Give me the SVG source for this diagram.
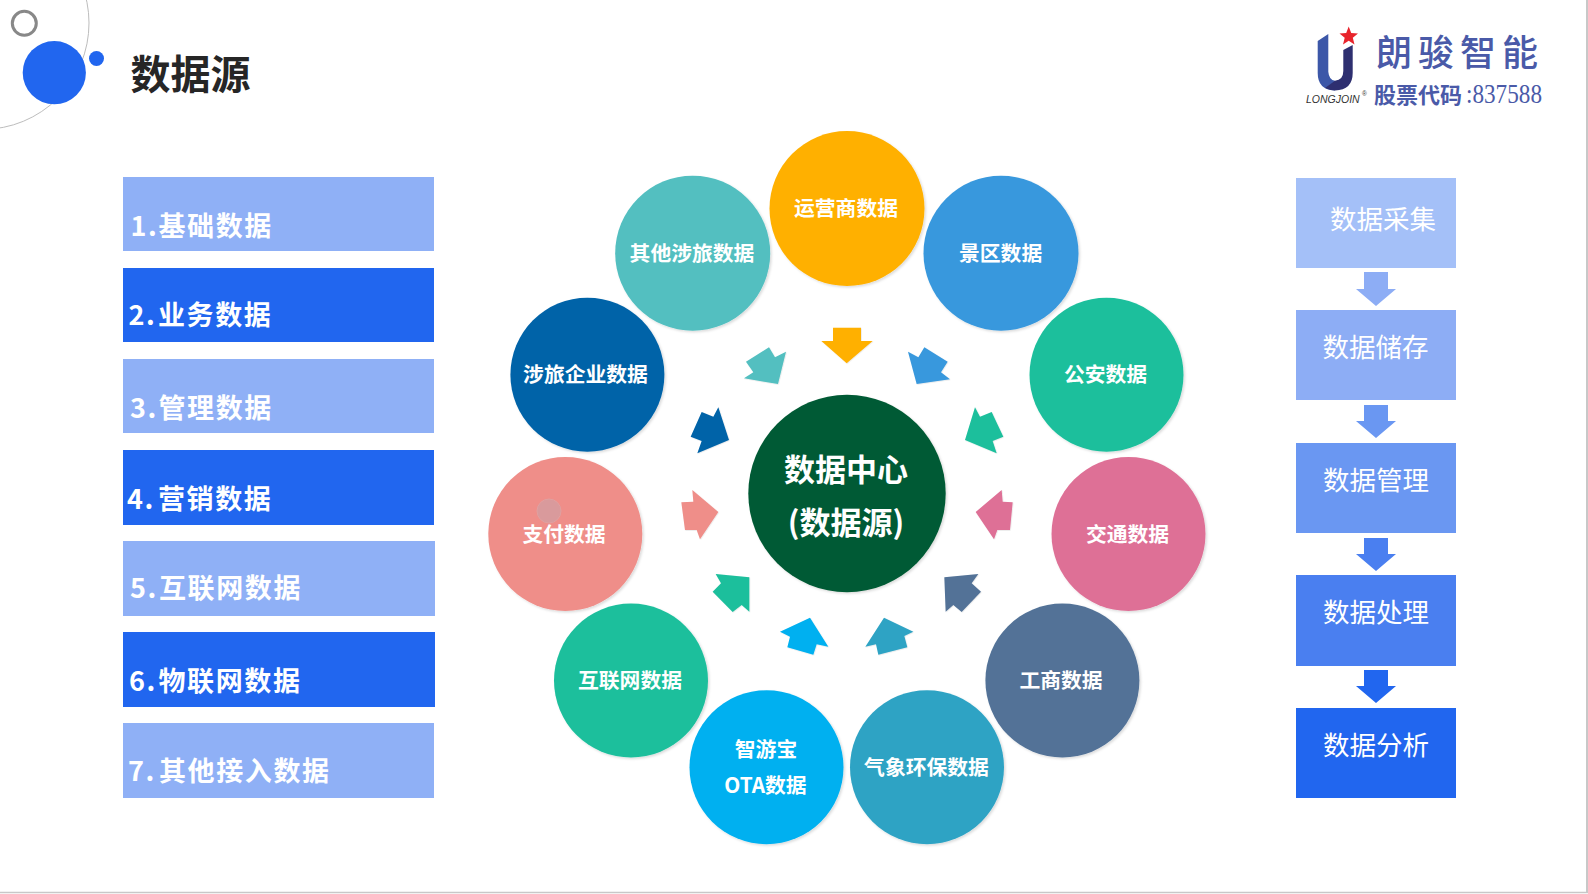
<svg xmlns="http://www.w3.org/2000/svg" width="1588" height="894" viewBox="0 0 1588 894">
<style>
text{font-family:"Noto Sans CJK SC","Noto Sans",sans-serif;}
.l{fill:#8fb0f6}.d{fill:#2166ef}
.lt{font-size:27px;font-weight:700;fill:#fff;letter-spacing:1.6px}
.rt{font-size:26.500px;fill:#fff;text-anchor:middle}
.ct{font-size:20.800px;font-weight:700;fill:#fff;text-anchor:middle}
.cc{font-size:31px;font-weight:700;fill:#fff;text-anchor:middle}
.sh{filter:url(#s)}
</style>
<defs><filter id="s" x="-20%" y="-20%" width="140%" height="140%"><feDropShadow dx="1.5" dy="1.5" stdDeviation="1.2" flood-color="#000" flood-opacity=".14"/></filter></defs>
<rect width="1588" height="894" fill="#fff"/>
<g id="decor">
<circle cx="-17.4" cy="23" r="106.4" fill="none" stroke="#bdbdbd" stroke-width="1"/>
<circle cx="24.3" cy="23.3" r="12" fill="#fff" stroke="#888" stroke-width="3"/>
<circle cx="54.3" cy="72.7" r="31.6" fill="#2166ef"/>
<circle cx="96.5" cy="58.5" r="7.5" fill="#2166ef"/>
<text x="130.500" y="89" font-size="40" font-weight="700" fill="#262626">数据源</text>
<path d="M0 892.500H1588" stroke="#c8c8c8" stroke-width="1.600" fill="none"/>
<path d="M1587 0V893" stroke="#c8c8c8" stroke-width="2" fill="none"/>
</g>
<g id="logo">
<path d="M1317.7 41L1328.3 34V71.7Q1329 80 1335 80.7L1335 90.5Q1317.7 90 1317.7 73Z" fill="#3c57a8"/>
<path d="M1343.3 50L1352.7 45V73Q1352.7 90 1335 90.5Q1331 90.5 1325 88L1335 80.7Q1343.3 80 1343.3 71Z" fill="#2e2f70"/>
<polygon points="1348.7,26.500 1351.200,33 1358,33.400 1352.800,37.800 1354.500,44.500 1348.700,40.800 1343,44.500 1344.700,37.800 1339.500,33.400 1346.200,33" fill="#e8242c"/>
<text x="1306" y="102.500" font-size="10.500" font-style="italic" fill="#333" style="font-family:'Liberation Sans',sans-serif">LONGJOIN</text>
<text x="1362" y="96" font-size="6.500" fill="#333" style="font-family:'Liberation Sans',sans-serif">®</text>
<text x="1376" y="66" font-size="36" font-weight="500" fill="#4a5aa8" letter-spacing="6">朗骏智能</text>
<text x="1374" y="102.500" font-size="22" font-weight="700" fill="#4a5aa8">股票代码</text>
<text x="1466" y="103" font-size="27" textLength="76" lengthAdjust="spacingAndGlyphs" fill="#4a5aa8" style="font-family:'Liberation Serif',serif">:837588</text>
</g>
<g id="list-1"><rect class="l" x="123" y="177" width="311" height="74"/><text class="lt" x="130.500" y="236">1.<tspan x="158.500">基础数据</tspan></text></g>
<g id="list-2"><rect class="d" x="123" y="268" width="311" height="74"/><text class="lt" x="128.500" y="325">2.<tspan x="158">业务数据</tspan></text></g>
<g id="list-3"><rect class="l" x="123" y="359" width="311" height="74"/><text class="lt" x="130" y="418">3.<tspan x="158.500">管理数据</tspan></text></g>
<g id="list-4"><rect class="d" x="123" y="450" width="311" height="75"/><text class="lt" x="127" y="509">4.<tspan x="158">营销数据</tspan></text></g>
<g id="list-5"><rect class="l" x="123" y="541" width="312" height="75"/><text class="lt" x="130" y="598">5.<tspan x="159">互联网数据</tspan></text></g>
<g id="list-6"><rect class="d" x="123" y="632" width="312" height="75"/><text class="lt" x="129" y="691">6.<tspan x="158.500">物联网数据</tspan></text></g>
<g id="list-7"><rect class="l" x="123" y="723" width="311" height="75"/><text class="lt" x="128" y="781">7.<tspan x="159">其他接入数据</tspan></text></g>
<g id="center"><circle class="sh" cx="847" cy="493.500" r="98.700" fill="#045a34"/><text class="cc" x="846" y="480.500">数据中心</text><text class="cc" x="846" y="534">(数据源)</text></g>
<g id="n-yunying"><circle class="sh" cx="847" cy="208.600" r="77.500" fill="#ffb000"/><text class="ct" x="846" y="216">运营商数据</text></g>
<g id="n-jingqu"><circle class="sh" cx="1001" cy="253.200" r="77.500" fill="#3898dd"/><text class="ct" x="1000.600" y="261">景区数据</text></g>
<g id="n-gongan"><circle class="sh" cx="1106.500" cy="374.700" r="77" fill="#1cbf9c"/><text class="ct" x="1105.500" y="382">公安数据</text></g>
<g id="n-jiaotong"><circle class="sh" cx="1128.500" cy="534" r="77" fill="#de7096"/><text class="ct" x="1127.500" y="541.500">交通数据</text></g>
<g id="n-gongshang"><circle class="sh" cx="1062.400" cy="680.600" r="77" fill="#527297"/><text class="ct" x="1061" y="687.500">工商数据</text></g>
<g id="n-qixiang"><circle class="sh" cx="927" cy="767.200" r="77" fill="#2fa3c4"/><text class="ct" x="926.500" y="775">气象环保数据</text></g>
<g id="n-zhiyoubao"><circle class="sh" cx="766.500" cy="767.200" r="77" fill="#00b0f0"/><text class="ct" x="766" y="757">智游宝</text><text class="ct" x="765.500" y="793">OTA数据</text></g>
<g id="n-hulianwang"><circle class="sh" cx="631" cy="680.600" r="77" fill="#1cbf9c"/><text class="ct" x="630" y="687.500">互联网数据</text></g>
<g id="n-zhifu"><circle class="sh" cx="565.300" cy="534" r="77" fill="#ef8e89"/><circle cx="549" cy="511" r="12" fill="#d99a9c" stroke="#e0a0a0"/><text class="ct" x="564" y="541.500">支付数据</text></g>
<g id="n-shelv"><circle class="sh" cx="587.400" cy="374.700" r="77" fill="#0063a8"/><text class="ct" x="585.500" y="382">涉旅企业数据</text></g>
<g id="n-qita"><circle class="sh" cx="692.700" cy="253.200" r="77.500" fill="#52bfc0"/><text class="ct" x="692" y="261">其他涉旅数据</text></g>
<g id="flow-1"><rect x="1296" y="178" width="160" height="90" fill="#a4c0f8"/><text class="rt" x="1383" y="229">数据采集</text></g>
<g id="flow-2"><rect x="1296" y="310" width="160" height="90" fill="#8dadf5"/><text class="rt" x="1375.500" y="357">数据储存</text></g>
<g id="flow-3"><rect x="1296" y="443" width="160" height="90" fill="#6a97f2"/><text class="rt" x="1376" y="490">数据管理</text></g>
<g id="flow-4"><rect x="1296" y="575" width="160" height="91" fill="#4a7ff0"/><text class="rt" x="1376" y="622">数据处理</text></g>
<g id="flow-5"><rect x="1296" y="708" width="160" height="90" fill="#2166ef"/><text class="rt" x="1376" y="755">数据分析</text></g>
<g id="connectors">
<g transform="translate(660 310) scale(.33333)">
<polygon class="sh" fill="#ffb000" points="519,53 603,53 603,93 638,93 560,160 484,93 519,93"/>
<polygon class="sh" fill="#52bfc0" points="327,112 345,142 378,125 354,222 252,205 280,187 258,155"/>
<polygon class="sh" fill="#3898dd" points="793,112 863,155 843,187 870,208 770,222 744,125 775,142"/>
<polygon class="sh" fill="#1cbf9c" points="995,306 1030,380 998,393 1010,430 915,390 945,292 960,320"/>
<polygon class="sh" fill="#0063a8" points="125,306 160,320 175,292 207,390 112,430 125,393 92,380"/>
<polygon class="sh" fill="#ef8e89" points="97,540 175,606 120,688 110,660 75,660 64,577 100,575"/>
<polygon class="sh" fill="#de7096" points="1025,540 1028,575 1058,577 1050,660 1012,660 1002,688 947,606"/>
<polygon class="sh" fill="#1cbf9c" points="167,792 268,802 268,905 245,885 218,906 158,845 183,820"/>
<polygon class="sh" fill="#527297" points="955,792 853,802 857,905 880,885 905,906 963,845 935,820"/>
<polygon class="sh" fill="#00b0f0" points="450,923 505,1010 470,1003 460,1034 382,1012 390,980 360,965"/>
<polygon class="sh" fill="#2fa3c4" points="672,923 760,965 733,978 742,1012 655,1034 648,1003 616,1010"/>
</g>
<polygon fill="#8dadf5" points="1364,272 1388,272 1388,289 1396,289 1376,306 1356,289 1364,289"/>
<polygon fill="#6a97f2" points="1364,405 1388,405 1388,421 1396,421 1376,438 1356,421 1364,421"/>
<polygon fill="#4a7ff0" points="1364,538 1388,538 1388,554 1396,554 1376,571 1356,554 1364,554"/>
<polygon fill="#2166ef" points="1364,670 1388,670 1388,686 1396,686 1376,703 1356,686 1364,686"/>
</g>
</svg>
